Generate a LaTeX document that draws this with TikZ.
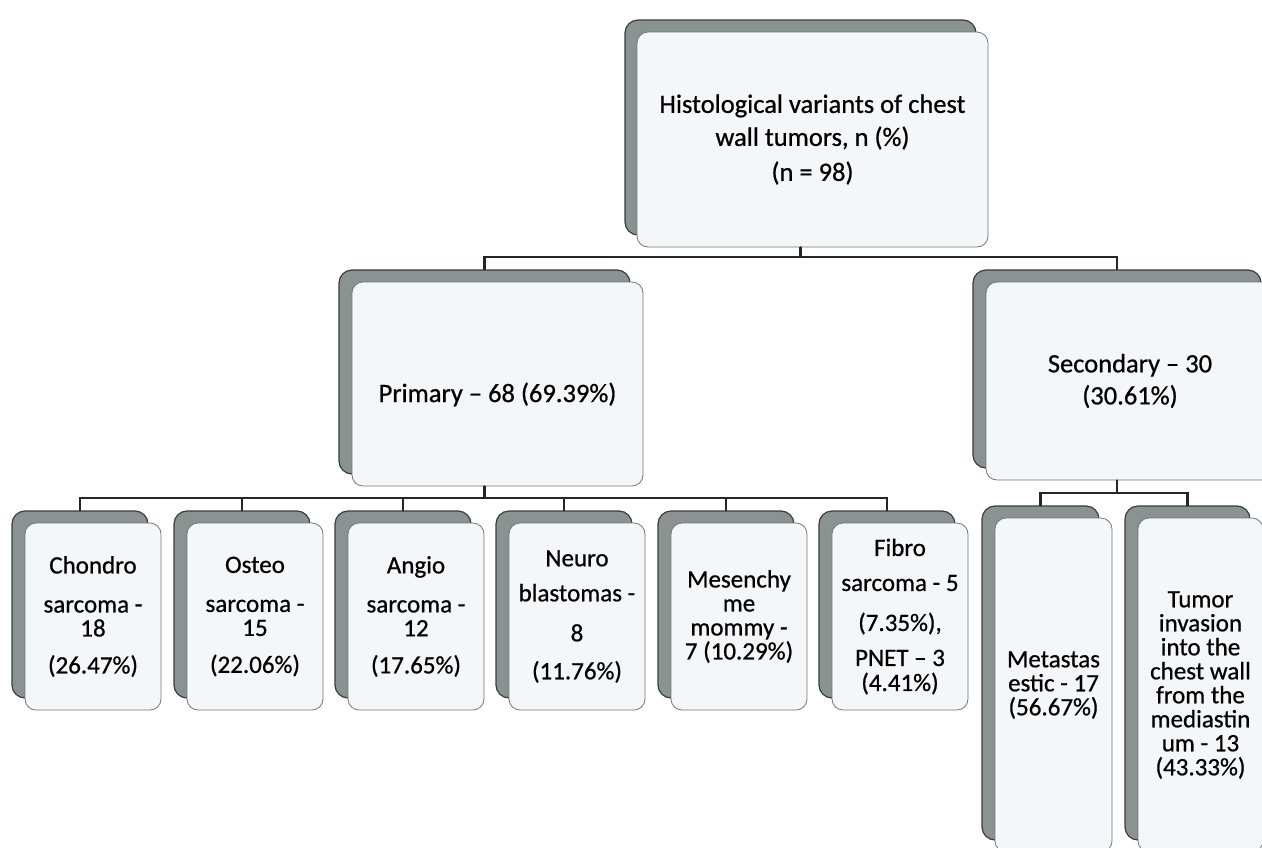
\documentclass[tikz,border=0pt]{standalone}
\usepackage{fontspec}
\setmainfont{Carlito}[FakeBold=0.7]
\usetikzlibrary{calc}
\definecolor{backgray}{RGB}{138,147,146}
\definecolor{backline}{RGB}{58,60,60}
\definecolor{frontfill}{RGB}{243,247,250}
\definecolor{frontline}{RGB}{118,118,118}

\begin{document}
\begin{tikzpicture}[x=1pt,y=-1pt,line cap=round,
  backbox/.style={draw=backline,fill=backgray,line width=1.2pt,rounded corners=13pt,inner sep=0pt},
  frontbox/.style={draw=frontline,fill=frontfill,line width=0.8pt,rounded corners=11pt,inner sep=0pt,align=center},
  bigtext/.style={font=\fontsize{26.5}{33}\selectfont},
  smalltext/.style={font=\fontsize{25}{24}\selectfont},
  link/.style={draw=black!85,line width=2.2pt}]
  \useasboundingbox (0,0) rectangle (1262,847);
  \clip (0,0) rectangle (1262,847);

  % levels of the connector bars
  \coordinate (lvl1) at (0,257);
  \coordinate (lvl2) at (0,498);
  \coordinate (lvl3) at (0,493);

  % Top box
  \node[backbox,minimum width=351pt,minimum height=215pt] (topb) at (800.5,127.5) {};
  \node[frontbox,bigtext,minimum width=351pt,minimum height=215pt] (top) at (812.5,139.5)
    {Histological variants of chest\\wall tumors, n (\%)\\[2pt](n = 98)};

  % Primary and secondary
  \node[backbox,minimum width=291pt,minimum height=204pt] (primb) at (484.5,372) {};
  \node[frontbox,bigtext,minimum width=291pt,minimum height=204pt,text height=42pt,text depth=6pt] (prim) at (497.5,384)
    {Primary – 68 (69.39\%)};
  \node[backbox,minimum width=288pt,minimum height=198pt] (secb) at (1117,369) {};
  \node[frontbox,bigtext,minimum width=288pt,minimum height=198pt] (sec) at (1130,381)
    {Secondary – 30\\[-1pt](30.61\%)};

  % Primary variants
  \node[backbox,minimum width=136pt,minimum height=187pt] (chondrob) at (80,604.5) {};
  \node[frontbox,smalltext,minimum width=136pt,minimum height=187pt] (chondro) at (93,616.5)
    {Chondro\\[15pt]sarcoma -\\18\\[13pt](26.47\%)};
  \node[backbox,minimum width=136pt,minimum height=187pt] (osteob) at (242,604.5) {};
  \node[frontbox,smalltext,minimum width=136pt,minimum height=187pt] (osteo) at (255,616.5)
    {Osteo\\[15pt]sarcoma -\\15\\[13pt](22.06\%)};
  \node[backbox,minimum width=136pt,minimum height=187pt] (angiob) at (403,604.5) {};
  \node[frontbox,smalltext,minimum width=136pt,minimum height=187pt] (angio) at (416,616.5)
    {Angio\\[15pt]sarcoma -\\12\\[13pt](17.65\%)};
  \node[backbox,minimum width=136pt,minimum height=187pt] (neurob) at (564,604.5) {};
  \node[frontbox,smalltext,minimum width=136pt,minimum height=187pt] (neuro) at (577,616.5)
    {Neuro\\[11pt]blastomas -\\[16pt]8\\[14pt](11.76\%)};
  \node[backbox,minimum width=136pt,minimum height=187pt] (mesenb) at (726,604.5) {};
  \node[frontbox,smalltext,minimum width=136pt,minimum height=187pt] (mesen) at (739,616.5)
    {Mesenchy\\me\\mommy -\\7 (10.29\%)};
  \node[backbox,minimum width=136pt,minimum height=187pt] (fibrob) at (887,604.5) {};
  \node[frontbox,smalltext,minimum width=136pt,minimum height=187pt] (fibro) at (900,616.5)
    {Fibro\\[11pt]sarcoma - 5\\[16pt](7.35\%),\\[11pt]PNET – 3\\[1pt](4.41\%)};

  % Secondary variants
  \node[backbox,minimum width=117pt,minimum height=334pt] (metab) at (1040.5,673) {};
  \node[frontbox,smalltext,minimum width=117pt,minimum height=334pt] (meta) at (1053.5,685)
    {Metastas\\estic - 17\\(56.67\%)};
  \node[backbox,minimum width=125pt,minimum height=334pt] (tumorb) at (1187.5,673) {};
  \node[frontbox,smalltext,minimum width=125pt,minimum height=334pt] (tumor) at (1200.5,685)
    {Tumor\\invasion\\into the\\chest wall\\from the\\mediastin\\um - 13\\(43.33\%)};

  % Connectors
  \draw[link] (top.south -| topb.south) -- (topb.south |- lvl1);
  \draw[link] (primb.north) -- (primb.north |- lvl1) -- (secb.north |- lvl1) -- (secb.north);
  \draw[link] (prim.south -| primb.south) -- (primb.south |- lvl2);
  \draw[link] (chondrob.north) -- (chondrob.north |- lvl2) -- (fibrob.north |- lvl2) -- (fibrob.north);
  \foreach \n in {osteob,angiob,neurob,mesenb}
    \draw[link] (\n.north) -- (\n.north |- lvl2);
  \draw[link] (sec.south -| secb.south) -- (secb.south |- lvl3);
  \draw[link] (metab.north) -- (metab.north |- lvl3) -- (tumorb.north |- lvl3) -- (tumorb.north);
\end{tikzpicture}
\end{document}
